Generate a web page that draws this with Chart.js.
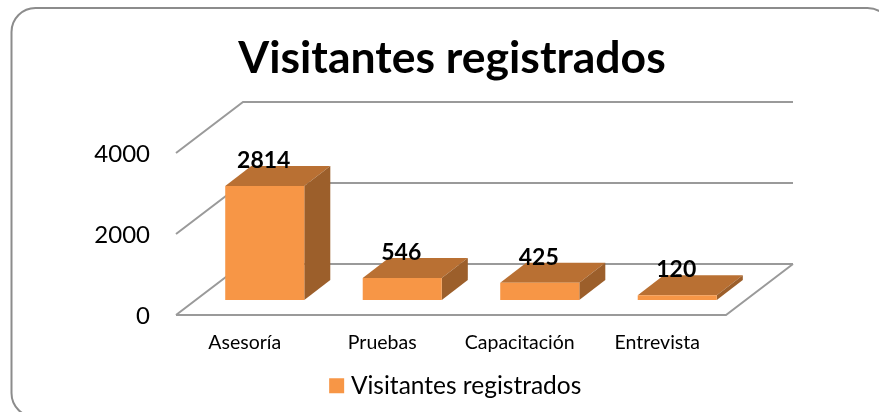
<!DOCTYPE html>
<html lang="en">
<head>
    <meta charset="UTF-8">
    <title>Visitantes registrados</title>
    <script src="https://cdn.jsdelivr.net/npm/chart.js"></script>
    <style>
        html, body { margin: 0; padding: 0; background: #fff; overflow: hidden; }
        #chart { display: block; }
    </style>
</head>
<body>
    <canvas id="chart" width="879" height="412"></canvas>
    <script>
        const categories = ['Asesoría', 'Pruebas', 'Capacitación', 'Entrevista'];
        const seriesName = 'Visitantes registrados';
        const visitors = [2814, 546, 425, 120];
        const yTicks = [0, 2000, 4000];

        const FONT = 'Lato, "Open Sans", sans-serif';
        const depth = { x: 67, y: -51 };      // fondo del piso
        const barDepth = { x: 26, y: -20 };   // fondo de cada barra
        const barShift = { x: 20, y: -15 };   // barras dentro del piso

        const frame3d = {
            id: 'frame3d',
            afterLayout(chart) {
                // la leyenda va un poco a la derecha del centro
                chart.legend.left += 6;
                chart.legend.right += 6;
            },
            beforeDraw(chart) {
                const { ctx, chartArea: a, scales: { y } } = chart;
                ctx.save();

                // marco redondeado
                ctx.strokeStyle = '#8c8c8c';
                ctx.lineWidth = 2;
                ctx.beginPath();
                ctx.roundRect(11.5, 8, 880, 409, 24);
                ctx.stroke();

                // paredes y piso
                ctx.strokeStyle = '#9a9a9a';
                ctx.lineWidth = 2;
                yTicks.forEach(v => {
                    const py = y.getPixelForValue(v);
                    ctx.beginPath();
                    ctx.moveTo(a.left, py);
                    if (v === 0) {
                        ctx.lineTo(a.right, py);
                        ctx.lineTo(a.right + depth.x, py + depth.y);
                    }
                    ctx.moveTo(a.left, py);
                    ctx.lineTo(a.left + depth.x, py + depth.y);
                    ctx.lineTo(a.right + depth.x, py + depth.y);
                    ctx.stroke();
                });
                ctx.restore();
            },
            beforeDatasetsDraw(chart) {
                const { ctx } = chart;
                ctx.save();
                ctx.translate(barShift.x, barShift.y);
                chart.getDatasetMeta(0).data.forEach(bar => {
                    const left = bar.x - bar.width / 2;
                    const right = bar.x + bar.width / 2;
                    // tapa
                    ctx.fillStyle = '#b97033';
                    ctx.beginPath();
                    ctx.moveTo(left, bar.y);
                    ctx.lineTo(left + barDepth.x, bar.y + barDepth.y);
                    ctx.lineTo(right + barDepth.x, bar.y + barDepth.y);
                    ctx.lineTo(right, bar.y);
                    ctx.closePath();
                    ctx.fill();
                    // costado
                    ctx.fillStyle = '#9c5f2b';
                    ctx.beginPath();
                    ctx.moveTo(right, bar.y);
                    ctx.lineTo(right + barDepth.x, bar.y + barDepth.y);
                    ctx.lineTo(right + barDepth.x, bar.base + barDepth.y);
                    ctx.lineTo(right, bar.base);
                    ctx.closePath();
                    ctx.fill();
                });
            },
            afterDatasetsDraw(chart) {
                const { ctx } = chart;
                ctx.restore();
                ctx.save();
                ctx.fillStyle = '#000';
                ctx.font = 'bold 23px ' + FONT;
                ctx.textAlign = 'center';
                ctx.textBaseline = 'middle';
                chart.getDatasetMeta(0).data.forEach((bar, i) => {
                    ctx.fillText(visitors[i], bar.x + barShift.x - 1, bar.y + barShift.y - 25.5);
                });
                ctx.restore();
            }
        };

        new Chart(document.getElementById('chart'), {
            type: 'bar',
            data: {
                labels: categories,
                datasets: [{
                    label: seriesName,
                    data: visitors,
                    backgroundColor: '#f79646',
                    barPercentage: 0.575,
                    categoryPercentage: 1
                }]
            },
            options: {
                responsive: false,
                animation: false,
                layout: { padding: { left: 25, right: 0, top: 0, bottom: 4 } },
                plugins: {
                    title: {
                        display: true,
                        text: 'Visitantes registrados',
                        color: '#000',
                        font: { family: FONT, size: 44.5, weight: 'bold' },
                        padding: { top: 32, bottom: 67.6 }
                    },
                    legend: {
                        position: 'bottom',
                        labels: {
                            color: '#000',
                            usePointStyle: true,
                            pointStyle: 'rect',
                            boxWidth: 4,
                            boxHeight: 15,
                            font: { family: FONT, size: 24.5 }
                        }
                    },
                    tooltip: { enabled: false }
                },
                scales: {
                    x: {
                        grid: { display: false },
                        border: { display: false },
                        afterFit(axis) { axis.height = 48.5; },
                        ticks: { color: '#000', font: { family: FONT, size: 19.5 }, maxRotation: 0, padding: 8 }
                    },
                    y: {
                        min: 0,
                        max: 4000,
                        grid: { display: false },
                        border: { display: false },
                        afterBuildTicks(axis) { axis.ticks = yTicks.map(value => ({ value })); },
                        afterFit(axis) { axis.width = 151; },
                        ticks: { color: '#000', font: { family: FONT, size: 24 }, padding: 18, labelOffset: 1.5, callback: v => String(v) }
                    },
                    // reserva el espacio del fondo a la derecha
                    yRight: {
                        position: 'right',
                        grid: { display: false },
                        border: { display: false },
                        ticks: { display: false },
                        afterFit(axis) { axis.width = 153; }
                    }
                }
            },
            plugins: [frame3d]
        });
    </script>
</body>
</html>
